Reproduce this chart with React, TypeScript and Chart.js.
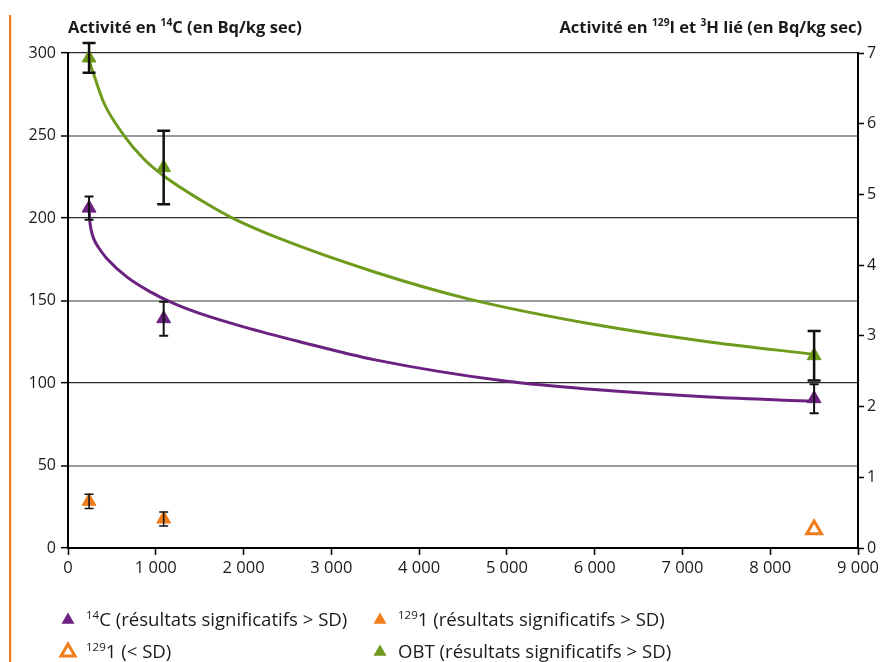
import { useEffect, useRef } from "react";
import { Chart, registerables } from "chart.js";

Chart.register(...registerables);

// ---------- data ----------
const xTickLabels = ["0", "1 000", "2 000", "3 000", "4 000", "5 000", "6 000", "7 000", "8 000", "9 000"];

const sampleX = [240, 1090, 8500];
const c14Values = [206, 139, 90.5];
const c14Errors = [7, 10.3, 8.8];

const i129X = [240, 1090];
const i129Values = [0.66, 0.41];
const i129Errors = [0.1, 0.1];

const i129LowX = [8500];
const i129LowValues = [0.26];

const obtValues = [6.93, 5.38, 2.72];
const obtErrors = [0.21, 0.52, 0.35];

// fitted trend curves
const c14FitX = [240, 247, 265, 292, 350, 442, 670, 938, 1203, 1508, 2000, 2640, 3500, 5000, 6000, 7300, 8500];
const c14FitY = [206, 199, 192.5, 187.5, 182, 175.5, 164.3, 155.2, 148.2, 142, 134, 125, 114, 101, 96, 91.5, 89];
const obtFitX = [240, 255, 290, 407, 634, 864, 1092, 1510, 1852, 2423, 3500, 4570, 6000, 7330, 8500];
const obtFitY = [6.93, 6.84, 6.71, 6.3, 5.84, 5.5, 5.26, 4.92, 4.68, 4.37, 3.9, 3.52, 3.16, 2.91, 2.74];

// ---------- style ----------
const PURPLE = "#6b2180";
const GREEN = "#6e9b1c";
const ORANGE = "#f07d19";
const FONT = "'Open Sans', 'Noto Sans', sans-serif";
const TEXT = "#1a1a1a";

type Part = { t: string; sup?: boolean };

function richWidth(ctx: CanvasRenderingContext2D, parts: Part[], size: number, weight: string) {
  let w = 0;
  for (const p of parts) {
    const s = p.sup ? size * 0.62 : size;
    ctx.font = `${weight} ${s}px ${FONT}`;
    w += ctx.measureText(p.t).width;
  }
  return w;
}

function drawRich(
  ctx: CanvasRenderingContext2D,
  parts: Part[],
  x: number,
  y: number,
  size: number,
  weight: string,
  align: "left" | "right"
) {
  const w = richWidth(ctx, parts, size, weight);
  let cx = align === "right" ? x - w : x;
  ctx.textAlign = "left";
  ctx.textBaseline = "alphabetic";
  ctx.fillStyle = TEXT;
  for (const p of parts) {
    const s = p.sup ? size * 0.62 : size;
    ctx.font = `${weight} ${s}px ${FONT}`;
    ctx.fillText(p.t, cx, p.sup ? y - size * 0.4 : y);
    cx += ctx.measureText(p.t).width;
  }
}

function triangle(ctx: CanvasRenderingContext2D, x: number, y: number, r: number) {
  ctx.beginPath();
  for (let k = 0; k < 3; k++) {
    const a = (k * 2 * Math.PI) / 3;
    const px = x + Math.sin(a) * r;
    const py = y - Math.cos(a) * r;
    if (k === 0) ctx.moveTo(px, py);
    else ctx.lineTo(px, py);
  }
  ctx.closePath();
}

const decorPlugin = {
  id: "decor",
  beforeDraw(chart: any) {
    const ctx = chart.ctx as CanvasRenderingContext2D;
    ctx.save();
    ctx.fillStyle = "#fff";
    ctx.fillRect(0, 0, chart.width, chart.height);
    ctx.fillStyle = ORANGE;
    ctx.fillRect(9, 15, 2.2, chart.height - 15);
    ctx.restore();
  },
  afterDatasetsDraw(chart: any) {
    const ctx = chart.ctx as CanvasRenderingContext2D;
    chart.data.datasets.forEach((ds: any, i: number) => {
      if (!ds.errors) return;
      const meta = chart.getDatasetMeta(i);
      const ys = chart.scales[ds.yAxisID];
      ctx.save();
      ctx.strokeStyle = "#111";
      ctx.lineWidth = ds.errWidth;
      meta.data.forEach((pt: any, j: number) => {
        const v = ds.data[j].y;
        const e = ds.errors[j];
        const top = ys.getPixelForValue(v + e);
        const bot = ys.getPixelForValue(v - e);
        const h = ds.errCap / 2;
        const x = pt.x;
        ctx.beginPath();
        ctx.moveTo(x, top);
        ctx.lineTo(x, bot);
        ctx.moveTo(x - h, top);
        ctx.lineTo(x + h, top);
        ctx.moveTo(x - h, bot);
        ctx.lineTo(x + h, bot);
        ctx.stroke();
      });
      ctx.restore();
    });
  },
  afterDraw(chart: any) {
    const ctx = chart.ctx as CanvasRenderingContext2D;
    const area = chart.chartArea;
    ctx.save();
    // axis titles
    drawRich(
      ctx,
      [{ t: "Activité en " }, { t: "14", sup: true }, { t: "C (en Bq/kg sec)" }],
      area.left,
      33,
      16.5,
      "bold",
      "left"
    );
    drawRich(
      ctx,
      [
        { t: "Activité en " },
        { t: "129", sup: true },
        { t: "I et " },
        { t: "3", sup: true },
        { t: "H lié (en Bq/kg sec)" },
      ],
      862,
      33,
      16.5,
      "bold",
      "right"
    );
    // legend
    const items = [
      { col: 0, row: 0, color: PURPLE, hollow: false, parts: [{ t: "14", sup: true }, { t: "C (résultats significatifs > SD)" }] },
      { col: 1, row: 0, color: ORANGE, hollow: false, parts: [{ t: "129", sup: true }, { t: "1 (résultats significatifs > SD)" }] },
      { col: 0, row: 1, color: ORANGE, hollow: true, parts: [{ t: "129", sup: true }, { t: "1 (< SD)" }] },
      { col: 1, row: 1, color: GREEN, hollow: false, parts: [{ t: "OBT (résultats significatifs > SD)" }] },
    ];
    const colX = [68, 380];
    const rowY = [619, 651];
    for (const it of items) {
      const mx = colX[it.col];
      const my = rowY[it.row];
      if (it.hollow) {
        triangle(ctx, mx, my + 1, 8);
        ctx.strokeStyle = it.color;
        ctx.lineWidth = 3;
        ctx.stroke();
      } else {
        triangle(ctx, mx, my + 1, 7.5);
        ctx.fillStyle = it.color;
        ctx.fill();
      }
      drawRich(ctx, it.parts as Part[], mx + 18, my + 7, 18.6, "normal", "left");
    }
    ctx.restore();
  },
};

export default function App() {
  const ref = useRef<HTMLCanvasElement | null>(null);

  useEffect(() => {
    document.body.style.margin = "0";
    document.body.style.overflow = "hidden";
    if (!ref.current) return;

    const pts = (xs: number[], ys: number[]) => xs.map((x, i) => ({ x, y: ys[i] }));
    const tickFont = { family: FONT, size: 16 };

    const chart = new Chart(ref.current, {
      type: "scatter",
      data: {
        datasets: [
          {
            label: "14C",
            data: pts(sampleX, c14Values),
            yAxisID: "y",
            pointStyle: "triangle",
            pointRadius: 8,
            pointBackgroundColor: PURPLE,
            pointBorderColor: PURPLE,
            pointBorderWidth: 1,
            showLine: false,
            clip: false,
            order: 1,
            errors: c14Errors,
            errCap: 9,
            errWidth: 2,
          } as any,
          {
            label: "129I",
            data: pts(i129X, i129Values),
            yAxisID: "y1",
            pointStyle: "triangle",
            pointRadius: 8,
            pointBackgroundColor: ORANGE,
            pointBorderColor: ORANGE,
            pointBorderWidth: 1,
            showLine: false,
            clip: false,
            order: 1,
            errors: i129Errors,
            errCap: 9,
            errWidth: 1.5,
          } as any,
          {
            label: "129I < SD",
            data: pts(i129LowX, i129LowValues),
            yAxisID: "y1",
            pointStyle: "triangle",
            pointRadius: 8.5,
            pointBackgroundColor: "#ffffff",
            pointBorderColor: ORANGE,
            pointBorderWidth: 3,
            showLine: false,
            clip: false,
            order: 1,
          },
          {
            label: "OBT",
            data: pts(sampleX, obtValues),
            yAxisID: "y1",
            pointStyle: "triangle",
            pointRadius: 8,
            pointBackgroundColor: GREEN,
            pointBorderColor: GREEN,
            pointBorderWidth: 1,
            showLine: false,
            clip: false,
            order: 1,
            errors: obtErrors,
            errCap: 13,
            errWidth: 2.5,
          } as any,
          {
            label: "14C fit",
            type: "line",
            data: pts(c14FitX, c14FitY),
            yAxisID: "y",
            borderColor: PURPLE,
            borderWidth: 3,
            pointRadius: 0,
            cubicInterpolationMode: "monotone",
            fill: false,
            clip: false,
            order: 2,
          },
          {
            label: "OBT fit",
            type: "line",
            data: pts(obtFitX, obtFitY),
            yAxisID: "y1",
            borderColor: GREEN,
            borderWidth: 3,
            pointRadius: 0,
            cubicInterpolationMode: "monotone",
            fill: false,
            clip: false,
            order: 2,
          },
        ],
      },
      options: {
        responsive: false,
        animation: false,
        events: [],
        layout: { padding: { top: 53, left: 0, right: 0, bottom: 0 } },
        plugins: {
          legend: { display: false },
          tooltip: { enabled: false },
          title: { display: false },
        },
        scales: {
          x: {
            type: "linear",
            min: 0,
            max: 9000,
            afterFit: (s: any) => {
              s.height = 114;
            },
            afterBuildTicks: (s: any) => {
              s.ticks = xTickLabels.map((_, i) => ({ value: i * 1000 }));
            },
            ticks: {
              autoSkip: false,
              maxRotation: 0,
              padding: 3,
              color: TEXT,
              font: { family: FONT, size: 16.5 },
              callback: (v: any) => xTickLabels[Math.round(Number(v) / 1000)],
            },
            grid: {
              drawOnChartArea: false,
              drawTicks: true,
              tickLength: 7,
              tickColor: "#000",
              tickWidth: 1.5,
            },
            border: { color: "#000", width: 2 },
          },
          y: {
            type: "linear",
            position: "left",
            min: 0,
            max: 300,
            afterFit: (s: any) => {
              s.width = 68;
            },
            ticks: { stepSize: 50, padding: 5, color: TEXT, font: tickFont },
            grid: {
              color: (c: any) => {
                const v = c.tick ? c.tick.value : 0;
                if (v === 0) return "#000";
                return v % 100 === 0 ? "#2b2b2b" : "#9a9a9a";
              },
              lineWidth: (c: any) => {
                const v = c.tick ? c.tick.value : 0;
                return v % 100 === 0 ? 1.3 : 2;
              },
              tickLength: 7,
              tickColor: "#000",
              tickWidth: 1.5,
            },
            border: { color: "#000", width: 2 },
          },
          y1: {
            type: "linear",
            position: "right",
            min: 0,
            max: 7,
            afterFit: (s: any) => {
              s.width = 25;
            },
            ticks: { stepSize: 1, padding: 3, color: TEXT, font: tickFont },
            grid: {
              drawOnChartArea: false,
              tickLength: 6,
              tickColor: "#000",
              tickWidth: 1.5,
            },
            border: { color: "#000", width: 2 },
          },
        },
      } as any,
      plugins: [decorPlugin],
    });

    return () => chart.destroy();
  }, []);

  return (
    <div style={{ width: 883, height: 662, position: "relative" }}>
      <canvas ref={ref} width={883} height={662} style={{ display: "block", width: 883, height: 662 }} />
    </div>
  );
}
